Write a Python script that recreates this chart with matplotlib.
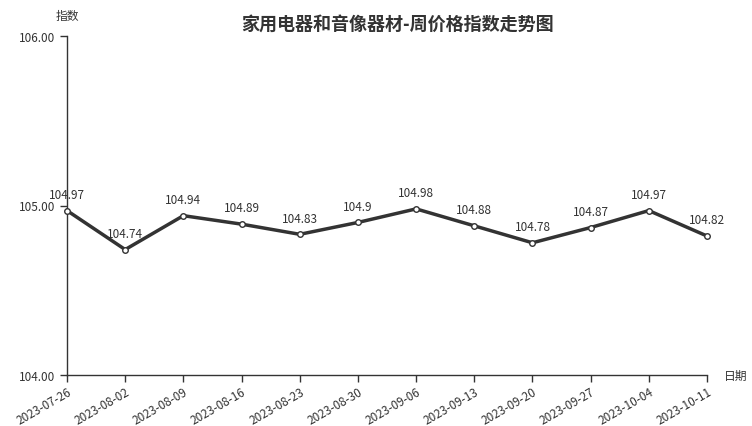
import matplotlib
matplotlib.use("Agg")
import matplotlib.pyplot as plt

plt.rcParams['font.family'] = ['Noto Sans CJK SC', 'DejaVu Sans']

dates = ["2023-07-26", "2023-08-02", "2023-08-09", "2023-08-16", "2023-08-23", "2023-08-30",
         "2023-09-06", "2023-09-13", "2023-09-20", "2023-09-27", "2023-10-04", "2023-10-11"]
values = [104.97, 104.74, 104.94, 104.89, 104.83, 104.9, 104.98, 104.88, 104.78, 104.87, 104.97, 104.82]
labels = ["104.97", "104.74", "104.94", "104.89", "104.83", "104.9", "104.98", "104.88", "104.78", "104.87", "104.97", "104.82"]
yticks = [104.0, 105.0, 106.0]

fig = plt.figure(figsize=(7.52, 4.27), dpi=100)
ax = fig.add_axes([67/752, 1-376/427, 640/752, 339/427])
x = list(range(len(dates)))
ax.plot(x, values, color='#333333', lw=2.5, marker='o', ms=4, mfc='white', mec='#333333', mew=1, zorder=3, clip_on=False)
for xi, v, lab in zip(x, values, labels):
    ax.annotate(lab, (xi, v), xytext=(0, 7), textcoords='offset points', ha='center', va='bottom',
                fontsize=8.5, color='#333333')
ax.set_xlim(0, 11)
ax.set_ylim(104, 106)
ax.set_yticks(yticks)
ax.set_yticklabels([f"{t:.2f}" for t in yticks])
ax.set_xticks(x)
ax.set_xticklabels(dates, rotation=30, ha='right', rotation_mode='anchor')
for s in ['top', 'right']:
    ax.spines[s].set_visible(False)
for s in ['left', 'bottom']:
    ax.spines[s].set_color('#333333')
    ax.spines[s].set_linewidth(1)
ax.tick_params(axis='both', colors='#333333', labelsize=8.5, length=5, width=1, labelcolor='#333333')
ax.tick_params(axis='x', pad=2)
ax.text(0, 1.04, "指数", transform=ax.transAxes, ha='center', va='bottom', fontsize=8.5, color='#333333')
ax.text(1.045, 0.0, "日期", transform=ax.transAxes, ha='center', va='center', fontsize=8.5, color='#333333')
fig.text(397/752, 1-24/427, "家用电器和音像器材-周价格指数走势图", ha='center', va='center', fontsize=13,
         fontweight='bold', color='#333333')
fig.savefig("out.png", dpi=100)
